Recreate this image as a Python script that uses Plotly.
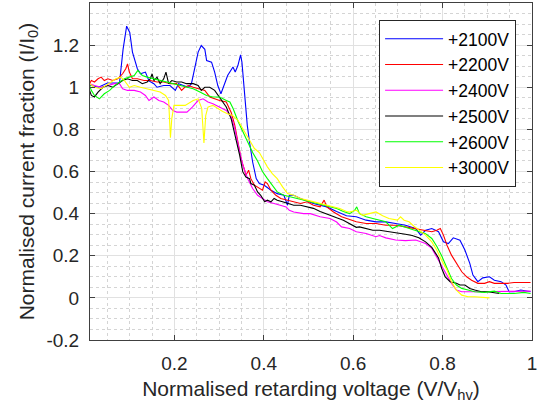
import plotly.graph_objects as go

# ---- data ----
labels = ["+2100V", "+2200V", "+2400V", "+2500V", "+2600V", "+3000V"]
colors = ["#0000ff", "#ff0000", "#ff00ff", "#000000", "#00ff00", "#ffff00"]

x_2100 = [0.01, 0.03, 0.05, 0.077, 0.085, 0.093, 0.1, 0.106, 0.117, 0.124, 0.135, 0.143, 0.154, 0.161, 0.176, 0.19,
          0.202, 0.209, 0.22, 0.231, 0.238, 0.246, 0.253, 0.26, 0.268, 0.272, 0.283, 0.29, 0.297, 0.304, 0.312, 0.319,
          0.331, 0.336, 0.342, 0.348, 0.351, 0.357, 0.363, 0.368, 0.375, 0.383, 0.39, 0.401, 0.416, 0.43, 0.445, 0.453,
          0.457, 0.467, 0.482, 0.511, 0.541, 0.563, 0.585, 0.607, 0.629, 0.651, 0.673, 0.695, 0.717, 0.74, 0.751, 0.762,
          0.776, 0.791, 0.802, 0.813, 0.824, 0.839, 0.85, 0.861, 0.868, 0.879, 0.89, 0.905, 0.916, 0.931, 0.942, 0.949,
          0.96, 0.975, 0.997]
y_2100 = [1.01, 1.0, 1.02, 1.02, 1.18, 1.29, 1.26, 1.167, 1.088, 1.064, 1.072, 1.03, 1.017, 1.0, 1.008, 1.008,
          0.985, 1.017, 1.008, 1.0, 1.017, 1.103, 1.167, 1.198, 1.18, 1.127, 1.119, 1.072, 1.008, 0.969, 1.017, 1.056,
          1.096, 1.072, 1.103, 1.154, 1.119, 0.945, 0.819, 0.74, 0.645, 0.566, 0.543, 0.535, 0.511, 0.495, 0.487, 0.44,
          0.487, 0.487, 0.472, 0.448, 0.432, 0.41, 0.39, 0.385, 0.369, 0.361, 0.361, 0.353, 0.345, 0.329, 0.298, 0.321,
          0.329, 0.314, 0.266, 0.258, 0.285, 0.274, 0.227, 0.164, 0.108, 0.077, 0.095, 0.1, 0.084, 0.077, 0.061, 0.029,
          0.029, 0.037, 0.029]

x_2200 = [0.01, 0.014, 0.021, 0.029, 0.036, 0.043, 0.051, 0.062, 0.073, 0.084, 0.091, 0.095, 0.099, 0.106, 0.117,
          0.132, 0.146, 0.161, 0.176, 0.19, 0.205, 0.216, 0.223, 0.231, 0.242, 0.257, 0.268, 0.279, 0.29, 0.301, 0.316,
          0.327, 0.335, 0.342, 0.349, 0.357, 0.36, 0.366, 0.371, 0.379, 0.39, 0.397, 0.403, 0.408, 0.416, 0.427, 0.438,
          0.453, 0.467, 0.482, 0.497, 0.511, 0.526, 0.535, 0.541, 0.556, 0.574, 0.592, 0.607, 0.629, 0.651, 0.673,
          0.695, 0.717, 0.74, 0.762, 0.776, 0.787, 0.795, 0.802, 0.81, 0.82, 0.831, 0.843, 0.854, 0.865, 0.879, 0.894,
          0.905, 0.916, 0.931, 0.946, 0.96, 0.975, 0.997]
y_2200 = [1.017, 1.032, 1.025, 1.04, 1.048, 1.032, 1.04, 1.032, 1.04, 1.064, 1.088, 1.111, 1.072, 1.04, 1.04,
          1.032, 1.032, 1.025, 1.025, 1.017, 1.017, 0.985, 1.0, 1.008, 1.0, 0.993, 0.985, 0.954, 0.945, 0.937, 0.93,
          0.88, 0.82, 0.74, 0.661, 0.606, 0.582, 0.606, 0.566, 0.535, 0.519, 0.511, 0.551, 0.543, 0.511, 0.487, 0.472,
          0.464, 0.456, 0.448, 0.456, 0.44, 0.432, 0.464, 0.432, 0.408, 0.385, 0.373, 0.361, 0.353, 0.353, 0.345,
          0.345, 0.337, 0.329, 0.321, 0.314, 0.321, 0.329, 0.298, 0.25, 0.203, 0.164, 0.124, 0.1, 0.084, 0.069, 0.069,
          0.077, 0.069, 0.069, 0.069, 0.073, 0.073, 0.073]

x_2400 = [0.01, 0.021, 0.036, 0.051, 0.066, 0.077, 0.084, 0.095, 0.11, 0.124, 0.135, 0.143, 0.154, 0.165, 0.176,
          0.187, 0.196, 0.205, 0.215, 0.228, 0.24, 0.253, 0.264, 0.275, 0.286, 0.301, 0.316, 0.327, 0.335, 0.346,
          0.353, 0.364, 0.375, 0.386, 0.397, 0.408, 0.423, 0.438, 0.45, 0.457, 0.467, 0.489, 0.504, 0.526, 0.548,
          0.563, 0.574, 0.592, 0.607, 0.629, 0.651, 0.659, 0.673, 0.695, 0.717, 0.74, 0.751, 0.762, 0.776, 0.787,
          0.798, 0.81, 0.82, 0.831, 0.843, 0.872, 0.909, 0.946, 0.997]
y_2400 = [1.017, 1.008, 1.0, 1.008, 1.017, 1.017, 0.993, 0.985, 0.985, 0.977, 0.961, 0.937, 0.954, 0.937, 0.93,
          0.914, 0.89, 0.882, 0.882, 0.882, 0.906, 0.937, 0.945, 0.93, 0.922, 0.906, 0.89, 0.86, 0.803, 0.693,
          0.63, 0.566, 0.519, 0.487, 0.472, 0.456, 0.448, 0.44, 0.432, 0.416, 0.408, 0.4, 0.4, 0.385, 0.377,
          0.36, 0.337, 0.329, 0.314, 0.306, 0.29, 0.296, 0.285, 0.275, 0.272, 0.275, 0.265, 0.258, 0.235, 0.195,
          0.155, 0.108, 0.069, 0.037, 0.029, 0.029, 0.029, 0.032, 0.032]

x_2500 = [0.01, 0.014, 0.021, 0.029, 0.04, 0.051, 0.062, 0.073, 0.084, 0.095, 0.106, 0.117, 0.128, 0.139, 0.146,
          0.15, 0.154, 0.161, 0.168, 0.176, 0.181, 0.187, 0.194, 0.205, 0.216, 0.227, 0.242, 0.253, 0.26, 0.268,
          0.279, 0.29, 0.301, 0.316, 0.327, 0.335, 0.346, 0.353, 0.36, 0.368, 0.371, 0.379, 0.386, 0.393, 0.397,
          0.402, 0.408, 0.416, 0.423, 0.43, 0.442, 0.453, 0.467, 0.482, 0.497, 0.511, 0.526, 0.537, 0.548, 0.563,
          0.578, 0.592, 0.607, 0.614, 0.629, 0.644, 0.659, 0.673, 0.695, 0.717, 0.732, 0.747, 0.762, 0.776, 0.791,
          0.798, 0.806, 0.817, 0.831, 0.839, 0.85, 0.861, 0.872, 0.887, 0.901, 0.916, 0.927]
y_2500 = [0.985, 0.961, 0.954, 0.977, 1.0, 1.008, 1.0, 1.017, 1.032, 1.04, 1.032, 1.032, 1.017, 1.025, 1.04,
          1.064, 1.032, 1.048, 1.017, 1.04, 1.072, 1.017, 1.032, 1.025, 1.025, 1.017, 1.017, 1.008, 0.985, 1.0,
          1.0, 0.985, 0.954, 0.906, 0.85, 0.78, 0.677, 0.598, 0.574, 0.566, 0.543, 0.535, 0.503, 0.487, 0.472,
          0.456, 0.464, 0.456, 0.472, 0.464, 0.456, 0.448, 0.44, 0.44, 0.432, 0.425, 0.41, 0.4, 0.392, 0.38,
          0.369, 0.353, 0.335, 0.337, 0.329, 0.321, 0.321, 0.317, 0.31, 0.302, 0.296, 0.285, 0.266, 0.24, 0.19,
          0.14, 0.1, 0.077, 0.069, 0.061, 0.061, 0.045, 0.037, 0.029, 0.029, 0.026, 0.021]

x_2600 = [0.01, 0.014, 0.021, 0.032, 0.043, 0.055, 0.066, 0.077, 0.088, 0.099, 0.11, 0.118, 0.128, 0.139, 0.154,
          0.168, 0.183, 0.198, 0.212, 0.227, 0.242, 0.257, 0.272, 0.286, 0.301, 0.316, 0.324, 0.331, 0.342, 0.353,
          0.364, 0.375, 0.386, 0.397, 0.408, 0.419, 0.43, 0.445, 0.46, 0.475, 0.489, 0.504, 0.519, 0.533, 0.548,
          0.563, 0.578, 0.592, 0.603, 0.608, 0.614, 0.629, 0.644, 0.659, 0.673, 0.688, 0.703, 0.717, 0.732, 0.747,
          0.762, 0.776, 0.787, 0.798, 0.81, 0.82, 0.831, 0.843, 0.857, 0.872, 0.894, 0.916, 0.931, 0.96, 0.982, 0.997]
y_2600 = [1.008, 0.985, 0.961, 0.945, 0.969, 0.985, 1.008, 1.025, 1.04, 1.048, 1.056, 1.08, 1.056, 1.048, 1.04,
          1.032, 1.025, 1.017, 1.008, 1.0, 0.993, 0.977, 0.961, 0.954, 0.954, 0.937, 0.93, 0.9, 0.84, 0.79,
          0.74, 0.69, 0.65, 0.6, 0.566, 0.535, 0.503, 0.487, 0.48, 0.472, 0.464, 0.456, 0.448, 0.44, 0.432,
          0.424, 0.41, 0.4, 0.415, 0.432, 0.4, 0.385, 0.377, 0.369, 0.361, 0.329, 0.345, 0.335, 0.325, 0.318,
          0.305, 0.282, 0.245, 0.2, 0.14, 0.092, 0.061, 0.045, 0.037, 0.029, 0.026, 0.032, 0.021, 0.021, 0.026, 0.021]

x_3000 = [0.01, 0.021, 0.036, 0.047, 0.058, 0.069, 0.08, 0.088, 0.099, 0.11, 0.124, 0.139, 0.154, 0.168, 0.18,
          0.187, 0.191, 0.194, 0.199, 0.209, 0.224, 0.242, 0.253, 0.261, 0.266, 0.27, 0.275, 0.286, 0.297, 0.308,
          0.319, 0.33, 0.342, 0.357, 0.368, 0.379, 0.39, 0.397, 0.408, 0.419, 0.43, 0.442, 0.453, 0.467, 0.482,
          0.497, 0.511, 0.526, 0.541, 0.556, 0.57, 0.585, 0.592, 0.607, 0.621, 0.636, 0.651, 0.666, 0.68, 0.699,
          0.706, 0.714, 0.725, 0.736, 0.747, 0.762, 0.776, 0.787, 0.798, 0.81, 0.82, 0.831, 0.843, 0.857, 0.872,
          0.894, 0.905]
y_3000 = [1.017, 1.0, 0.993, 1.008, 1.025, 1.04, 1.048, 1.032, 1.0, 1.008, 1.0, 0.993, 0.985, 0.977, 0.961,
          0.937, 0.76, 0.851, 0.914, 0.914, 0.914, 0.937, 0.945, 0.9, 0.735, 0.866, 0.906, 0.914, 0.898, 0.885,
          0.874, 0.866, 0.843, 0.79, 0.745, 0.709, 0.69, 0.661, 0.622, 0.59, 0.566, 0.527, 0.495, 0.487, 0.472,
          0.464, 0.456, 0.448, 0.44, 0.432, 0.424, 0.41, 0.408, 0.416, 0.392, 0.4, 0.408, 0.39, 0.377, 0.369,
          0.385, 0.369, 0.361, 0.34, 0.322, 0.298, 0.266, 0.227, 0.179, 0.132, 0.077, 0.037, 0.013, 0.005, 0.005,
          0.0, 0.0]

xs = [x_2100, x_2200, x_2400, x_2500, x_2600, x_3000]
ys = [y_2100, y_2200, y_2400, y_2500, y_2600, y_3000]

x_ticks = [0.2, 0.4, 0.6, 0.8, 1.0]
x_tick_text = ["0.2", "0.4", "0.6", "0.8", "1"]
y_ticks = [-0.2, 0, 0.2, 0.4, 0.6, 0.8, 1.0, 1.2]
y_tick_text = ["-0.2", "0", "0.2", "0.4", "0.6", "0.8", "1", "1.2"]

FONT = "Liberation Sans, Arial, sans-serif"
AX = "#262626"

fig = go.Figure()
for name, c, x, y in zip(labels, colors, xs, ys):
    fig.add_trace(go.Scatter(x=x, y=y, mode="lines", name=name,
                             line=dict(color=c, width=1.1)))

axis_common = dict(
    showline=True, linecolor="#404040", linewidth=1, mirror="ticks",
    ticks="inside", ticklen=5, tickcolor="#404040",
    showgrid=True, gridcolor="#e1e1e1", gridwidth=1,
    zeroline=False,
    tickfont=dict(family=FONT, size=19, color=AX),
    ticklabeloverflow="allow",
)

fig.update_layout(
    width=538, height=413,
    margin=dict(l=90, r=1, t=3, b=73),
    paper_bgcolor="white", plot_bgcolor="white",
    font=dict(family=FONT, color=AX),
    xaxis=dict(range=[0.011, 1.0002], tickvals=x_ticks, ticktext=x_tick_text,
               minor=dict(dtick=0.05, showgrid=True, gridcolor="#d4d4d4", griddash="dot", gridwidth=1),
               ticklabelstandoff=6,
               title=dict(text="Normalised retarding voltage (V/V<sub>hv</sub>)",
                          font=dict(family=FONT, size=21, color=AX), standoff=8),
               **axis_common),
    yaxis=dict(range=[-0.2, 1.4], tickvals=y_ticks, ticktext=y_tick_text,
               minor=dict(dtick=0.05, showgrid=True, gridcolor="#d4d4d4", griddash="dot", gridwidth=1),
               ticklabelstandoff=6,
               title=dict(text="Normalised current fraction (I/I<sub>0</sub>)",
                          font=dict(family=FONT, size=21, color=AX), standoff=6),
               **axis_common),
    legend=dict(x=0.964, y=0.95, xanchor="right", yanchor="top",
                bgcolor="white", bordercolor="#262626", borderwidth=1,
                font=dict(family=FONT, size=17.5, color="#000000"),
                tracegroupgap=0, itemwidth=58),
    showlegend=True,
)

fig.write_html("out.html")
